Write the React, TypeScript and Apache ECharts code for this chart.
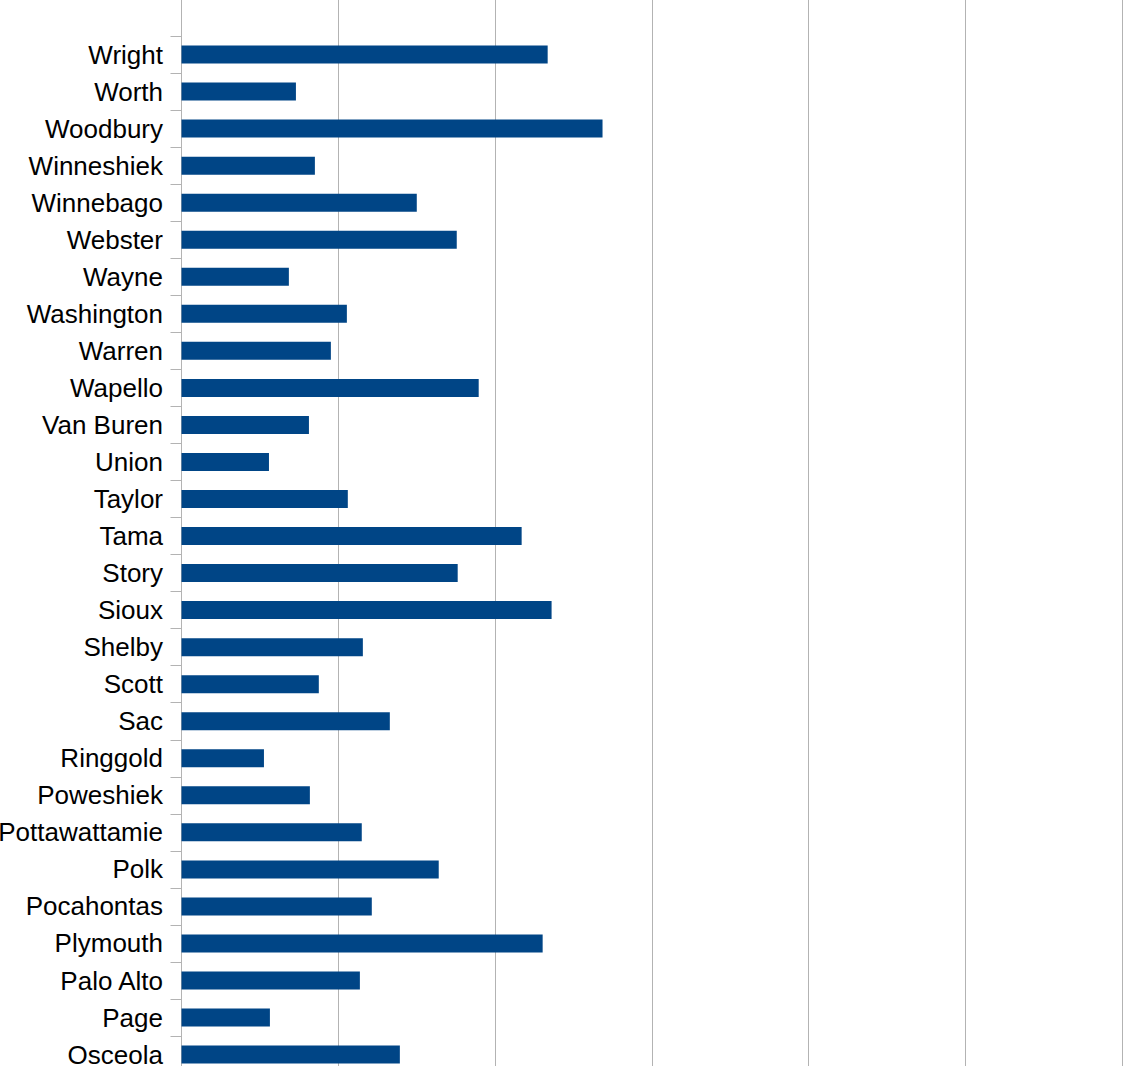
import React, { useEffect, useRef } from "react";
import * as echarts from "echarts";

const counties = [
  "",
  "Wright", "Worth", "Woodbury", "Winneshiek", "Winnebago", "Webster", "Wayne",
  "Washington", "Warren", "Wapello", "Van Buren", "Union", "Taylor", "Tama",
  "Story", "Sioux", "Shelby", "Scott", "Sac", "Ringgold", "Poweshiek",
  "Pottawattamie", "Polk", "Pocahontas", "Plymouth", "Palo Alto", "Page", "Osceola",
];

const values: (number | null)[] = [
  null,
  23.36, 7.3, 26.86, 8.51, 15.01, 17.56, 6.85,
  10.55, 9.53, 18.96, 8.13, 5.58, 10.61, 21.7,
  17.62, 23.61, 11.57, 8.76, 13.29, 5.26, 8.19,
  11.5, 16.41, 12.14, 23.04, 11.38, 5.64, 13.93,
];

const xMin = 0;
const xMax = 60;
const xInterval = 10;

export default function App() {
  const ref = useRef<HTMLDivElement>(null);
  useEffect(() => {
    if (!ref.current) return;
    const chart = echarts.init(ref.current, null, { renderer: "svg" });
    const band = 37.04;
    chart.setOption({
      animation: false,
      backgroundColor: "#ffffff",
      grid: {
        left: 181.5,
        top: 36 - band,
        width: 1122 - 181.5,
        height: band * counties.length,
        containLabel: false,
        outerBoundsMode: "none",
      },
      xAxis: {
        type: "value",
        min: xMin,
        max: xMax,
        interval: xInterval,
        axisLine: { show: false },
        axisTick: { show: false },
        axisLabel: { show: false },
        splitLine: { show: true, lineStyle: { color: "#b3b3b3", width: 1 } },
      },
      yAxis: {
        type: "category",
        data: counties,
        inverse: true,
        axisLine: { show: true, lineStyle: { color: "#b3b3b3", width: 1 } },
        axisTick: { show: true, length: 11, lineStyle: { color: "#b3b3b3", width: 1 } },
        axisLabel: {
          margin: 18.5,
          color: "#000000",
          fontSize: 26,
          fontFamily: "Liberation Sans",
          padding: [0, 0, 3, 0],
        },
        splitLine: { show: false },
      },
      series: [
        {
          type: "bar",
          data: values,
          barWidth: 18,
          itemStyle: { color: "#004586" },
        },
      ],
    });
    return () => chart.dispose();
  }, []);
  return (
    <div style={{ position: "fixed", left: 0, top: 0, width: 1123, height: 1066, overflow: "hidden", background: "#fff" }}>
      <div ref={ref} style={{ width: 1123, height: 1110 }} />
    </div>
  );
}
